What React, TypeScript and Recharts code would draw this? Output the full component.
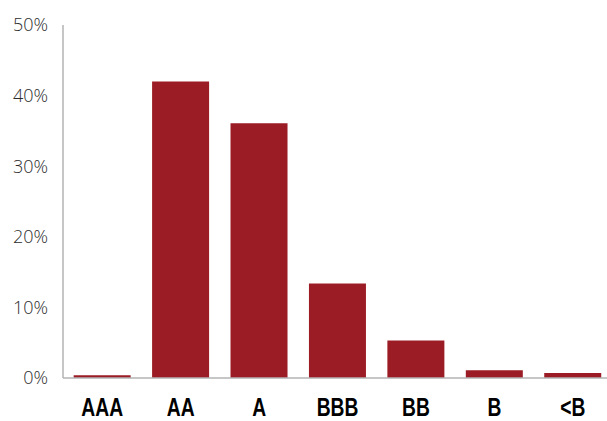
import { BarChart, Bar, XAxis, YAxis } from "recharts";

const ratings = ["AAA", "AA", "A", "BBB", "BB", "B", "<B"];
const shares = [0.4, 42.0, 36.1, 13.4, 5.3, 1.1, 0.7];
const yTicks = [0, 10, 20, 30, 40, 50];

const data = ratings.map((rating, i) => ({ rating, share: shares[i] }));

const BAR_RED = "#9b1c24";
const AXIS_GRAY = "#b3b3b3";

// condensed bold look: Liberation Sans Bold squeezed horizontally
function RatingTick({ x, y, payload }: any) {
  return (
    <g transform={`translate(${x},${y + 36}) scale(0.77,1)`}>
      <text
        x={0}
        y={0}
        textAnchor="middle"
        fill="#000"
        fontSize={25}
        fontWeight={700}
        fontFamily="'Liberation Sans', Arial, sans-serif"
      >
        {payload.value}
      </text>
    </g>
  );
}

export default function App() {
  return (
    <div
      style={{
        position: "absolute",
        top: 0,
        left: 0,
        width: 607,
        height: 421,
        overflow: "hidden",
        background: "#fff",
      }}
    >
      <BarChart
        width={612}
        height={421}
        data={data}
        margin={{ top: 25, right: 0, left: 0, bottom: 0 }}
        barCategoryGap="13.6%"
      >
        <XAxis
          dataKey="rating"
          axisLine={{ stroke: AXIS_GRAY, strokeWidth: 1.5 }}
          tickLine={false}
          tickSize={0}
          tick={<RatingTick />}
          height={43}
        />
        <YAxis
          domain={[0, 50]}
          ticks={yTicks}
          width={63}
          axisLine={{ stroke: AXIS_GRAY, strokeWidth: 1.5 }}
          tickLine={false}
          tickSize={0}
          tickMargin={15}
          tickFormatter={(v) => `${v}%`}
          tick={{
            fill: "#2b2b2b",
            fontSize: 18,
            fontWeight: 300,
            fontFamily: "'Open Sans', 'Liberation Sans', sans-serif",
          }}
        />
        <Bar dataKey="share" fill={BAR_RED} isAnimationActive={false} />
      </BarChart>
    </div>
  );
}
